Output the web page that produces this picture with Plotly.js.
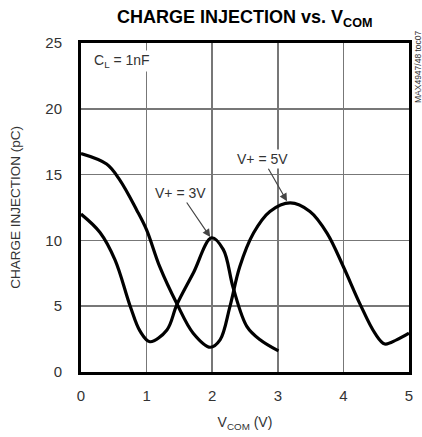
<!DOCTYPE html>
<html>
<head>
<meta charset="utf-8">
<script src="https://cdn.plot.ly/plotly-3.0.1.min.js"></script>
<style>html,body{margin:0;padding:0;background:#fff;}#chart{width:422px;height:437px;}</style>
</head>
<body>
<div id="chart"></div>
<script>
// V+ = 3V curve (ends at 3 V)
const vcom3 = [0, 0.29, 0.52, 0.75, 0.9, 1.05, 1.31, 1.46, 1.71, 1.99, 2.17, 2.32, 2.53, 2.73, 3.01];
const q3    = [12.0, 10.6, 8.5, 5.0, 3.1, 2.3, 3.2, 5.1, 7.5, 10.2, 9.3, 6.4, 3.45, 2.45, 1.6];
// V+ = 5V curve
const vcom5 = [0, 0.39, 0.59, 0.85, 1.0, 1.2, 1.46, 1.71, 1.97, 2.12, 2.27, 2.42, 2.63, 2.88, 3.19, 3.49, 3.75, 4.0, 4.25, 4.48, 4.63, 4.81, 5.0];
const q5    = [16.6, 15.8, 14.6, 12.3, 10.8, 8.0, 5.2, 2.95, 1.88, 2.44, 4.97, 8.0, 10.56, 12.2, 12.85, 12.2, 10.56, 8.0, 5.2, 2.95, 2.13, 2.44, 2.95];
const xTicks = [0, 1, 2, 3, 4, 5];
const yTicks = [0, 5, 10, 15, 20, 25];
const labels = ["V+ = 3V", "V+ = 5V"];

const fam = "'Liberation Sans', Arial, sans-serif";
const txt = '#333';
const lineStyle = {color: '#000', width: 3.2, shape: 'spline', smoothing: 1.0};

const data = [
  {x: vcom3, y: q3, mode: 'lines', line: lineStyle, name: labels[0], hoverinfo: 'skip'},
  {x: vcom5, y: q5, mode: 'lines', line: lineStyle, name: labels[1], hoverinfo: 'skip'}
];

const layout = {
  width: 422, height: 437,
  margin: {l: 81, r: 13, t: 43, b: 65},
  paper_bgcolor: '#fff', plot_bgcolor: '#fff',
  showlegend: false,
  font: {family: fam, size: 15, color: txt},
  title: {text: '<b>CHARGE INJECTION vs. V<sub>COM</sub></b>', font: {family: fam, size: 18, color: '#000'},
          x: 0.58, xanchor: 'center', y: 0.961, yanchor: 'middle'},
  xaxis: {range: [0, 5], tickvals: xTicks, ticks: '', showgrid: true, gridcolor: '#777', gridwidth: 1.5,
          showline: true, linecolor: '#000', linewidth: 3, mirror: true, zeroline: false,
          ticklabelstandoff: 8, tickfont: {family: fam, size: 15, color: txt},
          title: {text: 'V<sub>COM</sub> (V)', font: {family: fam, size: 14, color: txt}, standoff: 15}},
  yaxis: {range: [0, 25], tickvals: yTicks, ticks: '', showgrid: true, gridcolor: '#777', gridwidth: 1.5,
          showline: true, linecolor: '#000', linewidth: 3, mirror: true, zeroline: false,
          ticklabelstandoff: 13, tickfont: {family: fam, size: 15, color: txt},
          title: {text: 'CHARGE INJECTION (pC)', font: {family: fam, size: 13.5, color: txt}, standoff: 22}},
  annotations: [
    {x: 0.16, y: 23.6, xref: 'x', yref: 'y', xanchor: 'left', text: 'C<sub>L</sub> = 1nF', showarrow: false,
     bgcolor: '#fff', font: {family: fam, size: 14, color: txt}},
    {x: 1.97, y: 10.26, xref: 'x', yref: 'y', text: labels[0], showarrow: true, arrowhead: 2, arrowsize: 1.3, arrowwidth: 1.2,
     ax: -30, ay: -44, bgcolor: '#fff', font: {family: fam, size: 14, color: txt}},
    {x: 3.14, y: 12.97, xref: 'x', yref: 'y', text: labels[1], showarrow: true, arrowhead: 2, arrowsize: 1.3, arrowwidth: 1.2,
     ax: -24, ay: -42, bgcolor: '#fff', font: {family: fam, size: 14, color: txt}},
    {x: 1, y: 1, xref: 'paper', yref: 'paper', xanchor: 'center', yanchor: 'middle', xshift: 9, yshift: -24,
     text: 'MAX4947/48 toc07', textangle: -90, showarrow: false, font: {family: fam, size: 8.5, color: txt}}
  ]
};

Plotly.newPlot('chart', data, layout, {staticPlot: true});
</script>
</body>
</html>
